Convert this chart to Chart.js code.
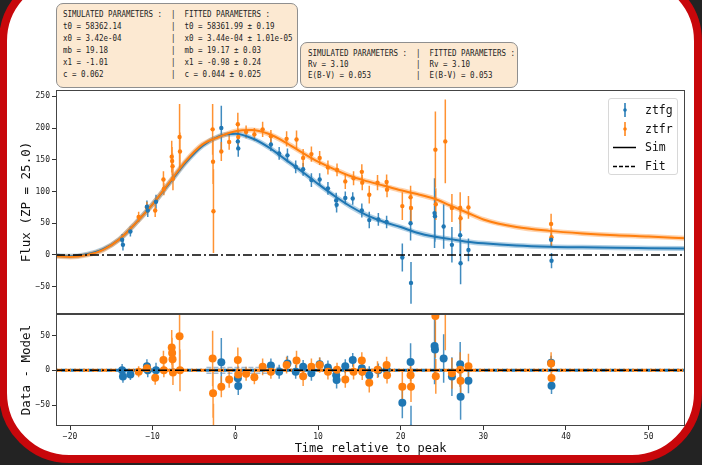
<!DOCTYPE html>
<html>
<head>
<meta charset="utf-8">
<script src="https://cdn.jsdelivr.net/npm/chart.js@4.4.0/dist/chart.umd.min.js"></script>
<style>
  html, body { margin: 0; padding: 0; }
  body { width: 702px; height: 465px; background: #232323; position: relative; overflow: hidden; font-family: "DejaVu Sans Mono", monospace; }
  #frame { position: absolute; left: -1px; top: -29px; width: 703px; height: 492px; box-sizing: border-box;
           border: 8px solid #c8070b; border-radius: 70px; background: #fff; }
  canvas { position: absolute; left: 0; }
  #cTop { top: 88px; }
  #cRes { top: 312px; }
  .box { position: absolute; background: #fce9d2; border: 1px solid #8f8f8f; border-radius: 7px; box-sizing: border-box; }
  .txt { position: absolute; margin: 0; font: 9.5px/12px "DejaVu Sans Mono", monospace; color: #222;
         transform: scaleX(0.787); transform-origin: 0 0; white-space: pre; }
  #legend { position: absolute; left: 608px; top: 98px; width: 70px; height: 77px; box-sizing: border-box;
            background: rgba(255,255,255,0.85); border: 1px solid #d8d8d8; border-radius: 3px; }
  #legend svg { position: absolute; left: 0; top: 0; }
  #legend span { position: absolute; left: 36px; font: 11.5px/14px "DejaVu Sans Mono", monospace; color: #111; }
</style>
</head>
<body>
<div id="frame"></div>

<div class="box" style="left:56px;top:3px;width:242px;height:85px;"></div>
<pre class="txt" style="left:63px;top:8px;">SIMULATED PARAMETERS :  |  FITTED PARAMETERS :
t0 = 58362.14           |  t0 = 58361.99 ± 0.19
x0 = 3.42e-04           |  x0 = 3.44e-04 ± 1.01e-05
mb = 19.18              |  mb = 19.17 ± 0.03
x1 = -1.01              |  x1 = -0.98 ± 0.24
c = 0.062               |  c = 0.044 ± 0.025</pre>

<div class="box" style="left:300px;top:42px;width:218px;height:46px;"></div>
<pre class="txt" style="left:308px;top:47px;line-height:11px;">SIMULATED PARAMETERS :  |  FITTED PARAMETERS :
Rv = 3.10               |  Rv = 3.10
E(B-V) = 0.053          |  E(B-V) = 0.053</pre>

<canvas id="cTop" width="702" height="228"></canvas>
<canvas id="cRes" width="702" height="146"></canvas>

<div id="legend">
  <svg width="70" height="77">
    <line x1="16" y1="4" x2="16" y2="18" stroke="#1f77b4" stroke-width="1.5"/>
    <circle cx="16" cy="11" r="1.8" fill="#1f77b4"/>
    <line x1="16" y1="23" x2="16" y2="37" stroke="#ff7f0e" stroke-width="1.5"/>
    <circle cx="16" cy="30" r="1.8" fill="#ff7f0e"/>
    <line x1="4" y1="48.5" x2="27" y2="48.5" stroke="#000" stroke-width="1.5"/>
    <line x1="4" y1="67.5" x2="27" y2="67.5" stroke="#000" stroke-width="1.5" stroke-dasharray="4,2"/>
  </svg>
  <span style="top:4px;">ztfg</span>
  <span style="top:23px;">ztfr</span>
  <span style="top:41px;">Sim</span>
  <span style="top:60px;">Fit</span>
</div>

<script>
// axis ranges and tick labels
const xMin = -21.7, xMax = 54.4;
const timeTicks = [-20, -10, 0, 10, 20, 30, 40, 50];
const fluxTicks = [-50, 0, 50, 100, 150, 200, 250];
const residTicks = [-50, 0, 50];

// ztfg observations
const gTime  = [-13.7, -13.6, -12.7, -10.7, -10.6, -9.6, -1.7, 0.3, 0.35, 4.3, 5.3, 6.3, 7.3, 8.2, 9.2, 10.2, 11.2,
                12.2, 12.25, 13.3, 14.2, 15.3, 16.2, 17.3, 18.3, 20.2, 21.2, 21.25, 24.1, 24.15, 25.2, 26.2, 27.2, 27.25, 28.2, 38.2, 38.25];
const gFlux  = [24, 16, 37, 76, 70, 84, 200, 179, 168, 174, 160, 157, 139, 135, 118, 119, 105,
                86, 79, 90, 89, 70, 55, 56, 52, -4, 50, -44, 66, 61, 45, 16, 31, -13, 8, 24, -9];
const gErr   = [9, 9, 8, 10, 10, 11, 35, 13, 13, 10, 10, 11, 10, 10, 11, 10, 10,
                12, 12, 10, 10, 11, 13, 10, 10, 22, 27, 33, 55, 40, 35, 28, 32, 33, 18, 10, 12];
const gResid = [0, -9, -6, 6, 0, 0, 11.5, -11.5, -22.6, 7, -2, 10, -2, 5, -4, 8.6, 4,
                -7, -14, 6, 15, 3, -7, 0, 1, -46.7, 12, -84, 35, 30, 17, -9, 8.6, -38, -15, 11, -22];

// ztfr observations
const rTime  = [-11.7, -10.7, -9.7, -8.7, -8.65, -7.7, -7.65, -7.6, -7.55, -6.75, -6.7, -2.75, -2.7, -2.65,
                -1.7, -0.75, 0.3, 0.35, 1.3, 2.3, 3.3, 4.3, 6.2, 7.4, 8.2, 9.2, 10.2, 11.2, 12.3, 13.3, 14.3,
                15.3, 15.35, 16.2, 17.2, 18.3, 18.35, 20.2, 21.2, 21.25, 24.2, 24.25, 25.4, 26.2, 27.2, 27.25, 28.2, 38.2, 38.25];
const rFlux  = [60, 75, 70, 119, 104, 155, 148, 140, 120, 186, 163, 198, 147, 69,
                163, 178, 206, 186, 194, 190, 198, 187, 183, 182, 153, 159, 153, 138, 134, 116, 121,
                131, 114, 95, 114, 115, 103, 77, 91, 74, 166, 80, 179, 74, 74, 58, 75, 49, 28];
const rErr   = [8, 9, 10, 13, 10, 25, 22, 20, 18, 52, 30, 40, 35, 66,
                15, 12, 18, 12, 10, 10, 12, 10, 12, 14, 14, 12, 11, 11, 10, 12, 11,
                12, 12, 14, 12, 12, 12, 22, 18, 22, 60, 25, 66, 22, 25, 20, 18, 16, 14];
const rResid = [-2, 3, -10.6, 15, 0, 33, 25, 16, -3, 49, 0, 17, -33, -114,
                -23.6, -13, 15, -6, -5, -10, 5, -2, 7.6, 14, -8.6, 5, 7.6, -2, 1, -13, -2,
                14, -2, -18, 1, 7.6, -7, -23.6, -7, -23.6, 78, -8.6, 95, -4.3, 1, -15, 6, 10, -11];

// model light curves
const modelTime = [-21.7, -20, -18, -16, -14, -12, -10, -8, -6, -4, -2, 0, 2, 4, 6, 8, 10, 12, 14, 16, 18, 20,
                   22, 24, 26, 28, 30, 34, 38, 42, 46, 50, 54.4];
const gModel = [-1, -2, 1, 9, 25, 51, 80, 113, 146, 172, 187, 191, 184, 170, 151, 132, 112, 93, 76, 62, 52, 44,
                35, 29, 25, 21, 18.5, 15, 13, 12, 11.3, 10.8, 10.3];
const rModel = [-2, -3, 0, 8, 25, 51, 80, 114, 148, 174, 186, 195, 197, 191, 178, 162, 147, 135, 124, 116, 109, 102,
                96, 89, 78, 67, 56, 44, 38, 34, 31, 29, 26.5];

// residual model uncertainty band
const bandTime = [-3.5, 5.5];
const bandHalf = 4;

const blue = '#1f77b4', orange = '#ff7f0e';
const mono = 'DejaVu Sans Mono';

function pts(ts, vs) { return ts.map((t, i) => ({ x: t, y: vs[i] })); }
function bars(ts, vs, es) {
  const out = [];
  ts.forEach((t, i) => {
    out.push({ x: t, y: vs[i] - es[i] }, { x: t, y: vs[i] + es[i] }, { x: t, y: null });
  });
  return out;
}
const minus = v => String(v).replace('-', '\u2212');

// no label overflow padding, the plot boxes are placed by hand
function noPad(s) {
  s.paddingTop = 0; s.paddingBottom = 0; s.paddingLeft = 0; s.paddingRight = 0;
}

const axesBox = {
  id: 'axesBox',
  afterDraw(chart) {
    const { ctx, chartArea: a } = chart;
    ctx.save();
    ctx.strokeStyle = '#444';
    ctx.lineWidth = 1;
    ctx.strokeRect(a.left + 0.5, a.top + 0.5, a.right - a.left - 1, a.bottom - a.top - 1);
    ctx.restore();
  }
};

function yAxis(min, max, tickList, title) {
  return {
    type: 'linear', min, max,
    afterFit: s => { s.width = 56; noPad(s); },
    afterBuildTicks: s => { s.ticks = tickList.map(v => ({ value: v })); },
    grid: { display: true, drawOnChartArea: false, tickLength: 4, color: '#333' },
    border: { display: false },
    ticks: { font: { family: mono, size: 8 }, color: '#222', padding: 2, callback: minus },
    title: { display: true, text: title, font: { family: mono, size: 12.5 }, color: '#111', padding: { top: 19.5, bottom: 0 } }
  };
}

const line = (data, color, width, order, extra) => Object.assign({
  data, borderColor: color, borderWidth: width, pointRadius: 0, order, clip: 0, fill: false
}, extra || {});
const dots = (data, color, r, order) => ({
  data, showLine: false, pointRadius: r, pointBackgroundColor: color, pointBorderWidth: 0, order, clip: 0
});

// flux panel
new Chart(document.getElementById('cTop'), {
  type: 'line',
  data: {
    datasets: [
      line([{ x: xMin, y: 0 }, { x: xMax, y: 0 }], '#000', 1.4, 0, { borderDash: [9, 3, 2, 3] }),
      dots(pts(gTime, gFlux), blue, 2.2, 1),
      dots(pts(rTime, rFlux), orange, 2.2, 1),
      line(pts(modelTime, rModel), orange, 2, 2, { cubicInterpolationMode: 'monotone' }),
      line(pts(modelTime, gModel), blue, 2, 2.5, { cubicInterpolationMode: 'monotone' }),
      line(pts(modelTime, rModel), 'rgba(255,127,14,0.35)', 5, 3, { cubicInterpolationMode: 'monotone' }),
      line(pts(modelTime, gModel), 'rgba(31,119,180,0.35)', 5, 3.5, { cubicInterpolationMode: 'monotone' }),
      line(bars(rTime, rFlux, rErr), 'rgba(255,127,14,0.85)', 1.5, 4),
      line(bars(gTime, gFlux, gErr), 'rgba(31,119,180,0.85)', 1.5, 4.5)
    ]
  },
  options: {
    responsive: false, animation: false, devicePixelRatio: 1,
    layout: { autoPadding: false, padding: { top: 2, right: 17, bottom: 2, left: 0 } },
    plugins: { legend: { display: false }, tooltip: { enabled: false } },
    scales: {
      x: { type: 'linear', min: xMin, max: xMax, display: false },
      y: yAxis(-93, 260, fluxTicks, 'Flux (ZP = 25.0)')
    }
  },
  plugins: [axesBox]
});

// residual panel
new Chart(document.getElementById('cRes'), {
  type: 'line',
  data: {
    datasets: [
      line([{ x: xMin, y: 0 }, { x: xMax, y: 0 }], '#000', 1.5, 0, { borderDash: [9, 3, 2, 3] }),
      dots(pts(gTime, gResid), blue, 4, 1),
      dots(pts(rTime, rResid), orange, 4, 0.5),
      line([{ x: xMin, y: 0 }, { x: xMax, y: 0 }], orange, 3, 2, { borderDash: [6, 3] }),
      line([{ x: xMin, y: 0 }, { x: xMax, y: 0 }], blue, 3, 2.5, { borderDash: [6, 3], borderDashOffset: 4 }),
      line(pts(bandTime, [bandHalf, bandHalf]), 'rgba(90,130,170,0.55)', 1.5, 3, { borderDash: [5, 2] }),
      line(pts(bandTime, [-bandHalf, -bandHalf]), 'rgba(90,130,170,0.55)', 1.5, 3, { borderDash: [5, 2] }),
      line(bars(rTime, rResid, rErr), 'rgba(255,127,14,0.8)', 1.5, 4),
      line(bars(gTime, gResid, gErr), 'rgba(31,119,180,0.8)', 1.5, 4.5)
    ]
  },
  options: {
    responsive: false, animation: false, devicePixelRatio: 1,
    layout: { autoPadding: false, padding: { top: 2, right: 17, bottom: 0, left: 0 } },
    plugins: { legend: { display: false }, tooltip: { enabled: false } },
    scales: {
      x: {
        type: 'linear', min: xMin, max: xMax,
        afterFit: s => { s.height = 32; noPad(s); },
        afterBuildTicks: s => { s.ticks = timeTicks.map(v => ({ value: v })); },
        grid: { display: true, drawOnChartArea: false, tickLength: 4, color: '#333' },
        border: { display: false },
        ticks: { font: { family: mono, size: 8 }, color: '#222', padding: 2, maxRotation: 0, autoSkip: false, callback: minus },
        title: { display: true, text: 'Time relative to peak', font: { family: mono, size: 12 }, color: '#111', padding: { top: 0, bottom: 1.5 } }
      },
      y: yAxis(-80, 81, residTicks, 'Data - Model')
    }
  },
  plugins: [axesBox]
});
</script>
</body>
</html>
